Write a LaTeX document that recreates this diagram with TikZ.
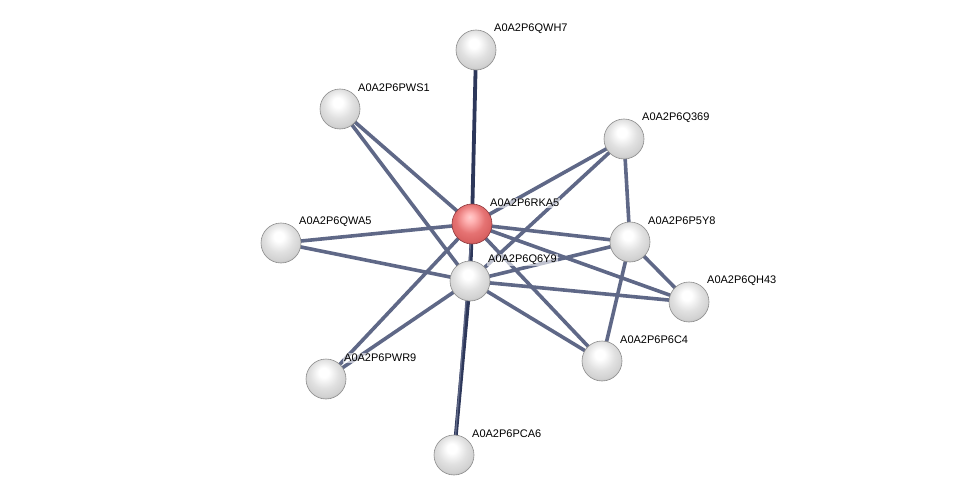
\documentclass[tikz,border=0pt]{standalone}
\usepackage{fontspec}
\setmainfont{Liberation Sans}
\pgfdeclareradialshading{greyball}{\pgfpoint{-3bp}{9bp}}{color(0bp)=(white); color(6bp)=(white); color(18bp)=(black!12); color(27bp)=(black!18); color(33bp)=(black!32); color(42bp)=(black!45); color(60bp)=(black!45)}
\pgfdeclareradialshading{redball}{\pgfpoint{-3bp}{9bp}}{color(0bp)=(red!20!white); color(6bp)=(red!30!white); color(18bp)=(red!50!white!90!black); color(27bp)=(red!55!white!85!black); color(33bp)=(red!55!white!70!black); color(42bp)=(red!50!black); color(60bp)=(red!50!black)}
\begin{document}
\begin{tikzpicture}[x=1pt,y=-1pt,
  prot/.style={circle,minimum size=40pt,inner sep=0pt,draw=black!45,line width=0.6pt,shading=greyball},
  hub/.style={prot,shading=redball,draw={rgb,255:red,140;green,55;blue,60}},
  edge/.style={draw={rgb,255:red,95;green,104;blue,135},line width=3.6pt},
  strong/.style={draw={rgb,255:red,45;green,55;blue,90},line width=3.8pt},
  lab/.style={font=\fontsize{11}{13}\selectfont,anchor=west,inner sep=1pt,fill=white,fill opacity=0.6,text opacity=1}]
\useasboundingbox (0,0) rectangle (975,500);
\coordinate (cQWH7) at (476,50);
\coordinate (cPWS1) at (340,109);
\coordinate (cQ369) at (624,139);
\coordinate (cRKA5) at (472,224);
\coordinate (cQWA5) at (281,243);
\coordinate (cP5Y8) at (630,242);
\coordinate (cQ6Y9) at (470,281);
\coordinate (cQH43) at (689,302);
\coordinate (cP6C4) at (602,361);
\coordinate (cPWR9) at (326,379);
\coordinate (cPCA6) at (454,455);
% edges
\draw[edge] (cPWS1) -- (cRKA5);
\draw[edge] (cPWS1) -- (cQ6Y9);
\draw[edge] (cQ369) -- (cRKA5);
\draw[edge] (cQ369) -- (cQ6Y9);
\draw[edge] (cQWA5) -- (cRKA5);
\draw[edge] (cQWA5) -- (cQ6Y9);
\draw[edge] (cP5Y8) -- (cRKA5);
\draw[edge] (cP5Y8) -- (cQ6Y9);
\draw[edge] (cQH43) -- (cRKA5);
\draw[edge] (cQH43) -- (cQ6Y9);
\draw[edge] (cP6C4) -- (cRKA5);
\draw[edge] (cP6C4) -- (cQ6Y9);
\draw[edge] (cPWR9) -- (cRKA5);
\draw[edge] (cPWR9) -- (cQ6Y9);
\draw[edge] (cQ369) -- (cP5Y8);
\draw[edge] (cP5Y8) -- (cQH43);
\draw[edge] (cP5Y8) -- (cP6C4);
\draw[strong] (cQWH7) -- (cRKA5);
\draw[strong] (cRKA5) -- (cQ6Y9);
\draw[strong] (cQ6Y9) -- (cPCA6);
\draw[edge,line width=1.4pt] (cRKA5) -- (cPCA6);
% nodes
\node[prot] (QWH7) at (cQWH7) {};
\node[prot] (PWS1) at (cPWS1) {};
\node[prot] (Q369) at (cQ369) {};
\node[prot] (QWA5) at (cQWA5) {};
\node[prot] (P5Y8) at (cP5Y8) {};
\node[prot] (Q6Y9) at (cQ6Y9) {};
\node[prot] (QH43) at (cQH43) {};
\node[prot] (P6C4) at (cP6C4) {};
\node[prot] (PWR9) at (cPWR9) {};
\node[prot] (PCA6) at (cPCA6) {};
\node[hub] (RKA5) at (cRKA5) {};
% labels
\node[lab] (lQWH7) at ([shift={(17,-21)}]cQWH7) {A0A2P6QWH7};
\node[lab] (lPWS1) at ([shift={(17,-21)}]cPWS1) {A0A2P6PWS1};
\node[lab] (lQ369) at ([shift={(17,-21)}]cQ369) {A0A2P6Q369};
\node[lab] (lRKA5) at ([shift={(17,-21)}]cRKA5) {A0A2P6RKA5};
\node[lab] (lQWA5) at ([shift={(17,-21)}]cQWA5) {A0A2P6QWA5};
\node[lab] (lP5Y8) at ([shift={(17,-21)}]cP5Y8) {A0A2P6P5Y8};
\node[lab] (lQ6Y9) at ([shift={(17,-21)}]cQ6Y9) {A0A2P6Q6Y9};
\node[lab] (lQH43) at ([shift={(17,-21)}]cQH43) {A0A2P6QH43};
\node[lab] (lP6C4) at ([shift={(17,-21)}]cP6C4) {A0A2P6P6C4};
\node[lab] (lPWR9) at ([shift={(17,-21)}]cPWR9) {A0A2P6PWR9};
\node[lab] (lPCA6) at ([shift={(17,-21)}]cPCA6) {A0A2P6PCA6};
\end{tikzpicture}
\end{document}
